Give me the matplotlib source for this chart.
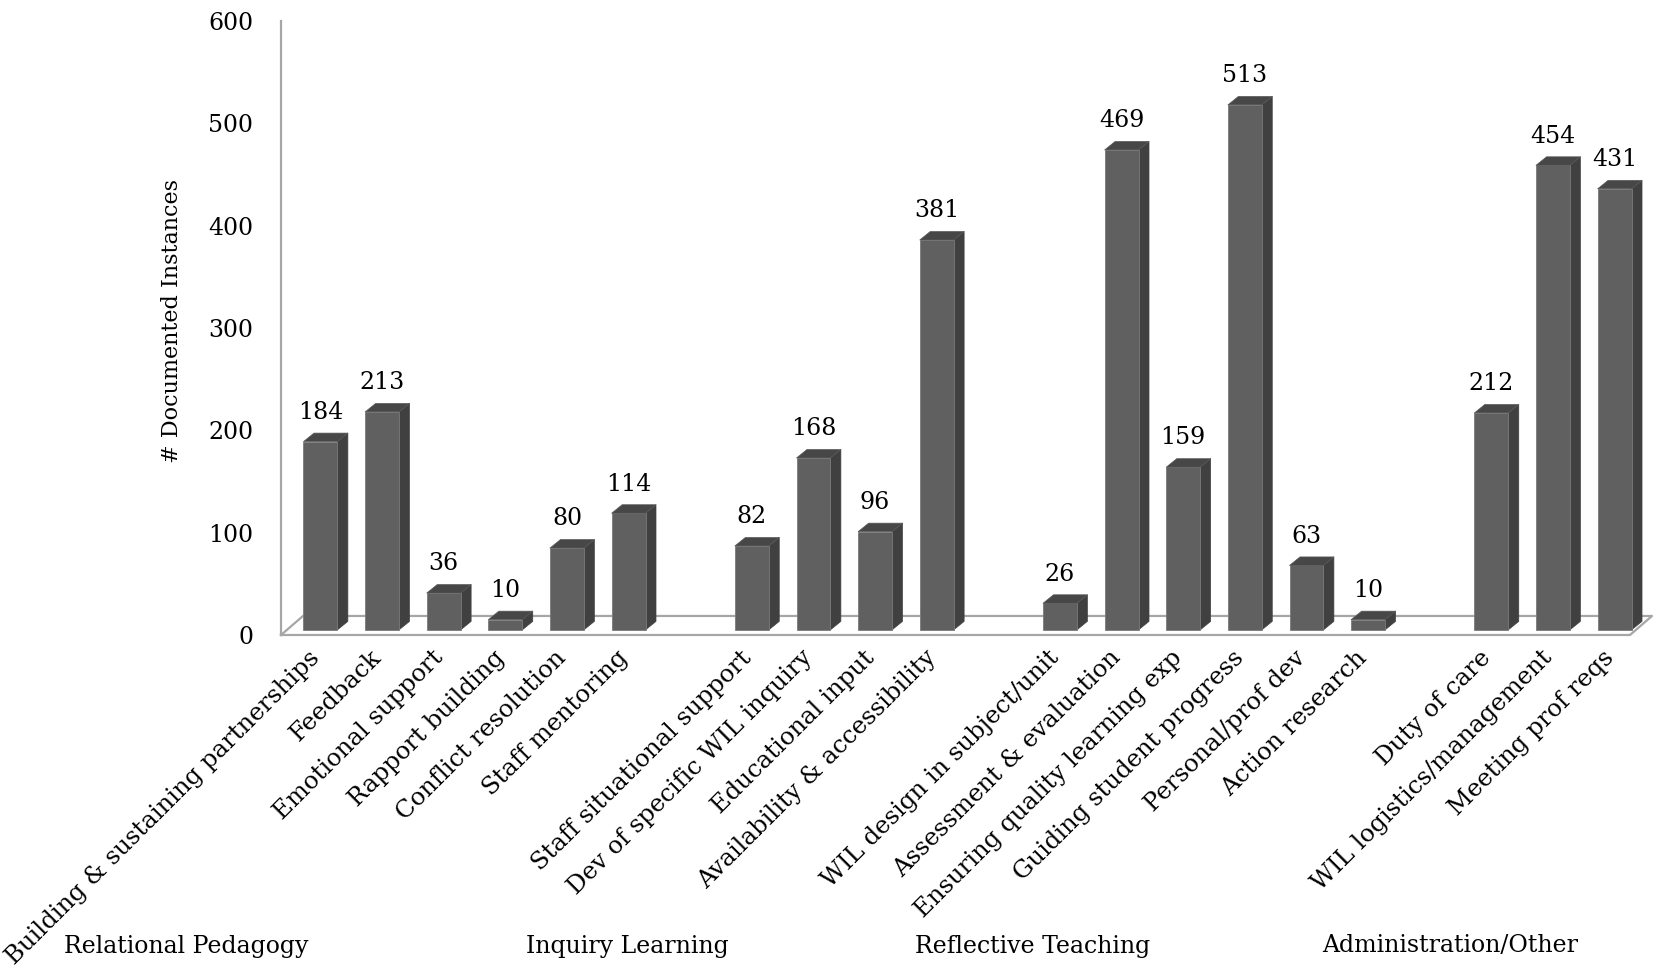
import matplotlib
matplotlib.use("Agg")
import matplotlib.pyplot as plt
from matplotlib.collections import PolyCollection
import matplotlib.transforms as mtransforms

plt.rcParams["font.family"] = ["DejaVu Serif"]
plt.rcParams["font.size"] = 17

groups = ["Relational Pedagogy", "Inquiry Learning", "Reflective Teaching", "Administration/Other"]
relational = ["Building & sustaining partnerships", "Feedback", "Emotional support",
              "Rapport building", "Conflict resolution", "Staff mentoring"]
relational_vals = [184, 213, 36, 10, 80, 114]
inquiry = ["Staff situational support", "Dev of specific WIL inquiry", "Educational input",
           "Availability & accessibility"]
inquiry_vals = [82, 168, 96, 381]
reflective = ["WIL design in subject/unit", "Assessment & evaluation", "Ensuring quality learning exp",
              "Guiding student progress", "Personal/prof dev", "Action research"]
reflective_vals = [26, 469, 159, 513, 63, 10]
admin = ["Duty of care", "WIL logistics/management", "Meeting prof reqs"]
admin_vals = [212, 454, 431]

yticks = [0, 100, 200, 300, 400, 500, 600]

# slots, with one empty slot between groups
names, vals, xs = [], [], []
pos = 0
for cats, v in [(relational, relational_vals), (inquiry, inquiry_vals),
                (reflective, reflective_vals), (admin, admin_vals)]:
    for c, val in zip(cats, v):
        names.append(c)
        vals.append(val)
        xs.append(pos)
        pos += 1
    pos += 1

W, H = 1659, 969
fig = plt.figure(figsize=(W / 100, H / 100), dpi=100)
ax = fig.add_axes([281 / W, 1 - 635 / H, (1630 - 281) / W, (635 - 21) / H])
xmin, xmax = -0.54, 21.35
ax.set_xlim(xmin, xmax)
ax.set_ylim(0, 600)

# fake 3d geometry
bx, by = 0.1, 5          # bar plane offset from front of floor
w = 0.55                 # front face width
ddx, ddy = 0.17, 8.3     # bar depth
fdx, fdy = 0.357, 18.6   # floor depth
grey = "#a6a6a6"

ax.plot([xmin, xmax, xmax + fdx, xmin + fdx, xmin], [0, 0, fdy, fdy, 0],
        color=grey, lw=1.6, clip_on=False, zorder=1)

front_c = "#606060"
side_c = "#404040"
top_c = "#474747"
ax.bar([x + bx for x in xs], vals, width=w, bottom=by, color=front_c,
       edgecolor="#7a7a7a", linewidth=0.6, zorder=3, clip_on=False)
sides, tops = [], []
for x, v in zip(xs, vals):
    xl = x + bx - w / 2
    xr = x + bx + w / 2
    t = by + v
    sides.append([(xr, by), (xr + ddx, by + ddy), (xr + ddx, t + ddy), (xr, t)])
    tops.append([(xl, t), (xr, t), (xr + ddx, t + ddy), (xl + ddx, t + ddy)])
    ax.text(x + bx, t + ddy + 9, str(v), ha="center", va="bottom", fontsize=17)
ax.add_collection(PolyCollection(sides, facecolors=side_c, edgecolors=side_c,
                                 linewidths=0.5, zorder=2, clip_on=False))
ax.add_collection(PolyCollection(tops, facecolors=top_c, edgecolors="#5a5a5a",
                                 linewidths=0.5, zorder=4, clip_on=False))

for s in ["top", "right", "bottom"]:
    ax.spines[s].set_visible(False)
ax.spines["left"].set_color(grey)
ax.spines["left"].set_linewidth(1.6)
ax.set_yticks(yticks)
ax.tick_params(axis="y", length=0, pad=20, labelsize=17)
ax.set_xticks([x - 0.1 for x in xs])
ax.set_xticklabels(names, rotation=45, ha="right", va="top", rotation_mode="anchor")
ax.tick_params(axis="x", length=0, pad=8, labelsize=17.5)

fig.text(172 / W, 1 - 321 / H, "# Documented Instances", rotation=90,
         ha="center", va="center", fontsize=16)

trans = mtransforms.blended_transform_factory(ax.transData, fig.transFigure)
for g, gx in zip(groups, [-2.08, 5.08, 11.66, 18.43]):
    ax.text(gx, 1 - 946 / H, g, transform=trans, ha="center", va="center",
            fontsize=17, clip_on=False)

fig.savefig("out.png", dpi=100)
